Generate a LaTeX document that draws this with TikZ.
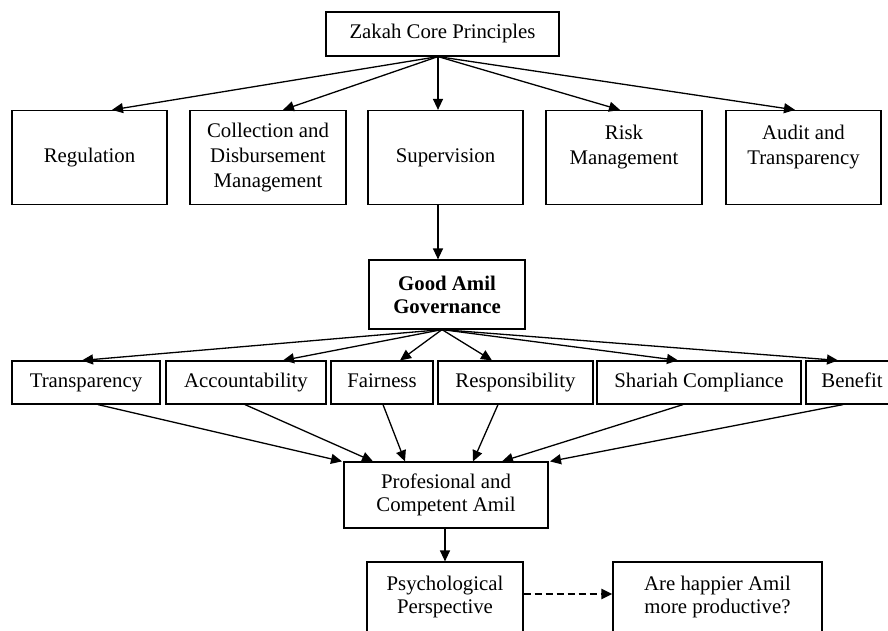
\documentclass[tikz,border=0pt]{standalone}
\usepackage{fontspec}
\setmainfont{Liberation Serif}
\usetikzlibrary{arrows.meta,positioning}

\begin{document}
\begin{tikzpicture}[
      x=1pt, y=-1pt,
      font=\fontsize{20.8}{23}\selectfont,
      >={Triangle[length=11pt,width=10pt]},
      box/.style ={draw, line width=1.2pt, align=center, inner sep=0pt},
      prin/.style={box, minimum height=94pt, font=\fontsize{20.8}{25}\selectfont},
      sub/.style ={box, minimum height=43pt, text height=14.5pt, text depth=4.5pt},
      df/.style  ={->, line width=1.3pt},
      cf/.style  ={->, line width=2.4pt, dash pattern=on 7pt off 4pt}
    ]

    % --- Marco de la figura ---
    \useasboundingbox (0,0) rectangle (888,631);
    \fill[white] (0,0) rectangle (888,631);
    \clip (0,0) rectangle (888,631);

    % --- Principios (capa superior) ---
    \node[box, minimum width=233pt, minimum height=44pt] (zcp) at (442.5,34) {Zakah Core Principles};

    \node[prin, minimum width=155pt] (reg)  at (89.5,157.5)  {Regulation};
    \node[prin, minimum width=156pt] (coll) at (268,157.5)   {Collection and\\Disbursement\\Management};
    \node[prin, minimum width=155pt, text depth=4.5pt] (sup) at (445.5,157.5) {Supervision};
    \node[prin, minimum width=156pt] (risk) at (624,157.5)   {Risk\\Management\\\mbox{}};
    \node[prin, minimum width=155pt] (aud)  at (803.5,157.5) {Audit and\\Transparency\\\mbox{}};

    % --- Gobernanza ---
    \node[box, minimum width=156pt, minimum height=69pt, font=\fontsize{20.8}{23}\selectfont\bfseries]
        (gag) at (447,294.5) {Good Amil\\Governance};

    \node[sub, minimum width=148pt] (tra) at (86,382.5)    {Transparency};
    \node[sub, minimum width=160pt] (acc) at (246,382.5)   {Accountability};
    \node[sub, minimum width=102pt] (fai) at (382,382.5)   {Fairness};
    \node[sub, minimum width=155pt] (res) at (515.5,382.5) {Responsibility};
    \node[sub, minimum width=204pt] (sha) at (699,382.5)   {Shariah Compliance};
    \node[sub, minimum width=92pt]  (ben) at (852,382.5)   {Benefit};

    % --- Amil ---
    \node[box, minimum width=204pt, minimum height=66pt] (pca) at (446,495) {Profesional and\\Competent Amil};
    \node[box, minimum width=156pt, minimum height=88pt] (psy) at (445,606) {Psychological\\Perspective\\\mbox{}};
    \node[box, minimum width=209pt, minimum height=88pt] (hap) at (717.5,606) {Are happier Amil\\more productive?\\\mbox{}};

    % ================= FLECHAS =================

    % --- Principios ---
    \draw[df] ([xshift=-4.5pt]zcp.south) -- ([xshift=22.5pt]reg.north);
    \draw[df] ([xshift=-4.5pt]zcp.south) -- ([xshift=15pt]coll.north);
    \draw[df] ([xshift=-4.5pt]zcp.south) -- ([xshift=-7.5pt]sup.north);
    \draw[df] ([xshift=-4.5pt]zcp.south) -- ([xshift=-4pt]risk.north);
    \draw[df] ([xshift=-4.5pt]zcp.south) -- ([xshift=-8.5pt]aud.north);

    \draw[df] ([xshift=-7.5pt]sup.south) -- ([xshift=-9pt]gag.north);

    % --- Gobernanza -> elementos ---
    \draw[df] ([xshift=-5pt]gag.south) -- ([xshift=-4pt]tra.north);
    \draw[df] ([xshift=-5pt]gag.south) -- ([xshift=37pt]acc.north);
    \draw[df] ([xshift=-5pt]gag.south) -- ([xshift=18pt]fai.north);
    \draw[df] ([xshift=-5pt]gag.south) -- ([xshift=-23.5pt]res.north);
    \draw[df] ([xshift=-5pt]gag.south) -- ([xshift=-21pt]sha.north);
    \draw[df] ([xshift=-5pt]gag.south) -- ([xshift=-14pt]ben.north);

    % --- Elementos -> Amil ---
    \draw[df] ([xshift=12pt]tra.south)    -- ([xshift=-104pt]pca.north);
    \draw[df] ([xshift=-1pt]acc.south)    -- ([xshift=-73pt]pca.north);
    \draw[df] ([xshift=1pt]fai.south)     -- ([xshift=-41pt]pca.north);
    \draw[df] ([xshift=-17.5pt]res.south) -- ([xshift=27pt]pca.north);
    \draw[df] ([xshift=-16pt]sha.south)   -- ([xshift=56pt]pca.north);
    \draw[df] ([xshift=-9pt]ben.south)    -- ([xshift=104pt]pca.north);

    \draw[df] ([xshift=-1pt]pca.south) -- (psy.north);
    \draw[cf] ([yshift=12pt]psy.east) -- ([yshift=12pt]hap.west);

  \end{tikzpicture}
\end{document}
